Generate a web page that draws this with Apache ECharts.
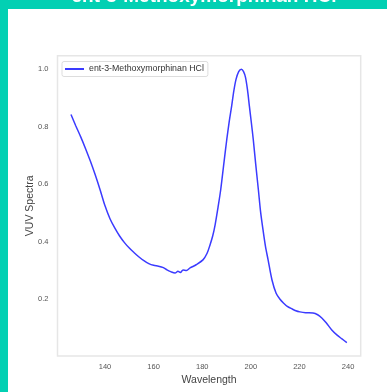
<!DOCTYPE html>
<html><head><meta charset="utf-8">
<script src="https://cdn.jsdelivr.net/npm/echarts@6/dist/echarts.min.js"></script>
<style>html,body{margin:0;padding:0;background:#fff}#c{width:387px;height:392px}</style>
</head><body><div id="c"></div>
<script>
const titleText = "ent-3-Methoxymorphinan HCl";
const seriesName = "ent-3-Methoxymorphinan HCl";
const wavelength = [126.0,128.0,130.0,132.0,134.0,136.0,138.0,140.0,142.0,144.0,146.0,148.0,150.0,152.0,154.0,156.0,158.0,160.0,162.0,164.0,165.5,167.0,168.8,170.0,171.0,172.1,173.5,175.0,177.5,180.3,182.0,183.2,184.3,185.3,186.5,187.6,189.0,190.1,191.1,192.1,193.0,193.9,195.0,196.1,197.0,197.8,198.6,199.4,200.2,201.0,202.0,203.1,204.0,205.0,206.0,207.1,208.7,210.4,212.0,213.4,215.0,217.0,218.5,220.2,222.5,225.6,227.5,229.2,231.0,233.3,235.5,237.5,239.5];
const vuv = [0.843,0.803,0.765,0.724,0.680,0.632,0.580,0.525,0.481,0.448,0.420,0.397,0.378,0.362,0.347,0.334,0.324,0.318,0.315,0.310,0.302,0.296,0.291,0.297,0.293,0.302,0.300,0.309,0.320,0.337,0.360,0.389,0.420,0.459,0.520,0.581,0.680,0.756,0.818,0.872,0.925,0.965,0.992,1.000,0.992,0.972,0.930,0.872,0.815,0.756,0.670,0.581,0.505,0.442,0.385,0.337,0.267,0.221,0.200,0.187,0.175,0.166,0.160,0.156,0.153,0.152,0.146,0.135,0.118,0.093,0.075,0.062,0.049];
const xTicks = [140,160,180,200,220,240];
const yTicks = [0.2,0.4,0.6,0.8,1.0];

const chart = echarts.init(document.getElementById('c'), null, {renderer:'canvas'});
const pts = wavelength.map((w,i)=>[w, vuv[i]]);
const FF = '"Liberation Sans", Arial, sans-serif';
chart.setOption({
  backgroundColor:'#ffffff',
  animation:false,
  graphic:[
    {type:'rect', shape:{x:0,y:0,width:8,height:392}, style:{fill:'#02d0b3'}, z:10},
    {type:'rect', shape:{x:0,y:0,width:387,height:9}, style:{fill:'#02d0b3'}, z:10},
    {type:'text', x:204, y:6, style:{text:titleText, fill:'#ffffff', font:'bold 19px '+FF, textAlign:'center', textVerticalAlign:'bottom'}, z:11}
  ],
  legend:{
    show:true, left:62, top:61.5, orient:'vertical',
    data:[seriesName],
    itemWidth:19, itemHeight:2, itemGap:4,
    padding:[3,4,3,3],
    borderColor:'#dddddd', borderWidth:1, borderRadius:2,
    backgroundColor:'#ffffff',
    icon:'rect',
    textStyle:{fontSize:8.8, color:'#333', fontFamily:FF}
  },
  grid:{left:57.5, top:55.7, right:26.3, bottom:36, show:true, borderColor:'#e6e6e6', borderWidth:1.5, backgroundColor:'#fff'},
  xAxis:{
    type:'value', min:120.45, max:245.2,
    name:'Wavelength', nameLocation:'middle', nameGap:19, nameMoveOverlap:false,
    nameTextStyle:{fontSize:10.5, color:'#444', fontFamily:FF},
    axisLine:{show:false}, axisTick:{show:false}, splitLine:{show:false},
    axisLabel:{customValues:xTicks, fontSize:7.5, color:'#555', margin:7, fontFamily:FF}
  },
  yAxis:{
    type:'value', min:0.0025, max:1.0475,
    name:'VUV Spectra', nameLocation:'middle', nameGap:22, nameRotate:90, nameMoveOverlap:false,
    nameTextStyle:{fontSize:10.5, color:'#444', fontFamily:FF},
    axisLine:{show:false}, axisTick:{show:false}, splitLine:{show:false},
    axisLabel:{customValues:yTicks, fontSize:7.5, color:'#555', margin:9, formatter:v=>v.toFixed(1), fontFamily:FF}
  },
  series:[{
    name:seriesName, type:'line', data:pts, showSymbol:false, smooth:0.3,
    lineStyle:{color:'#3b3bff', width:1.5}, itemStyle:{color:'#3b3bff'}
  }]
});
</script></body></html>
